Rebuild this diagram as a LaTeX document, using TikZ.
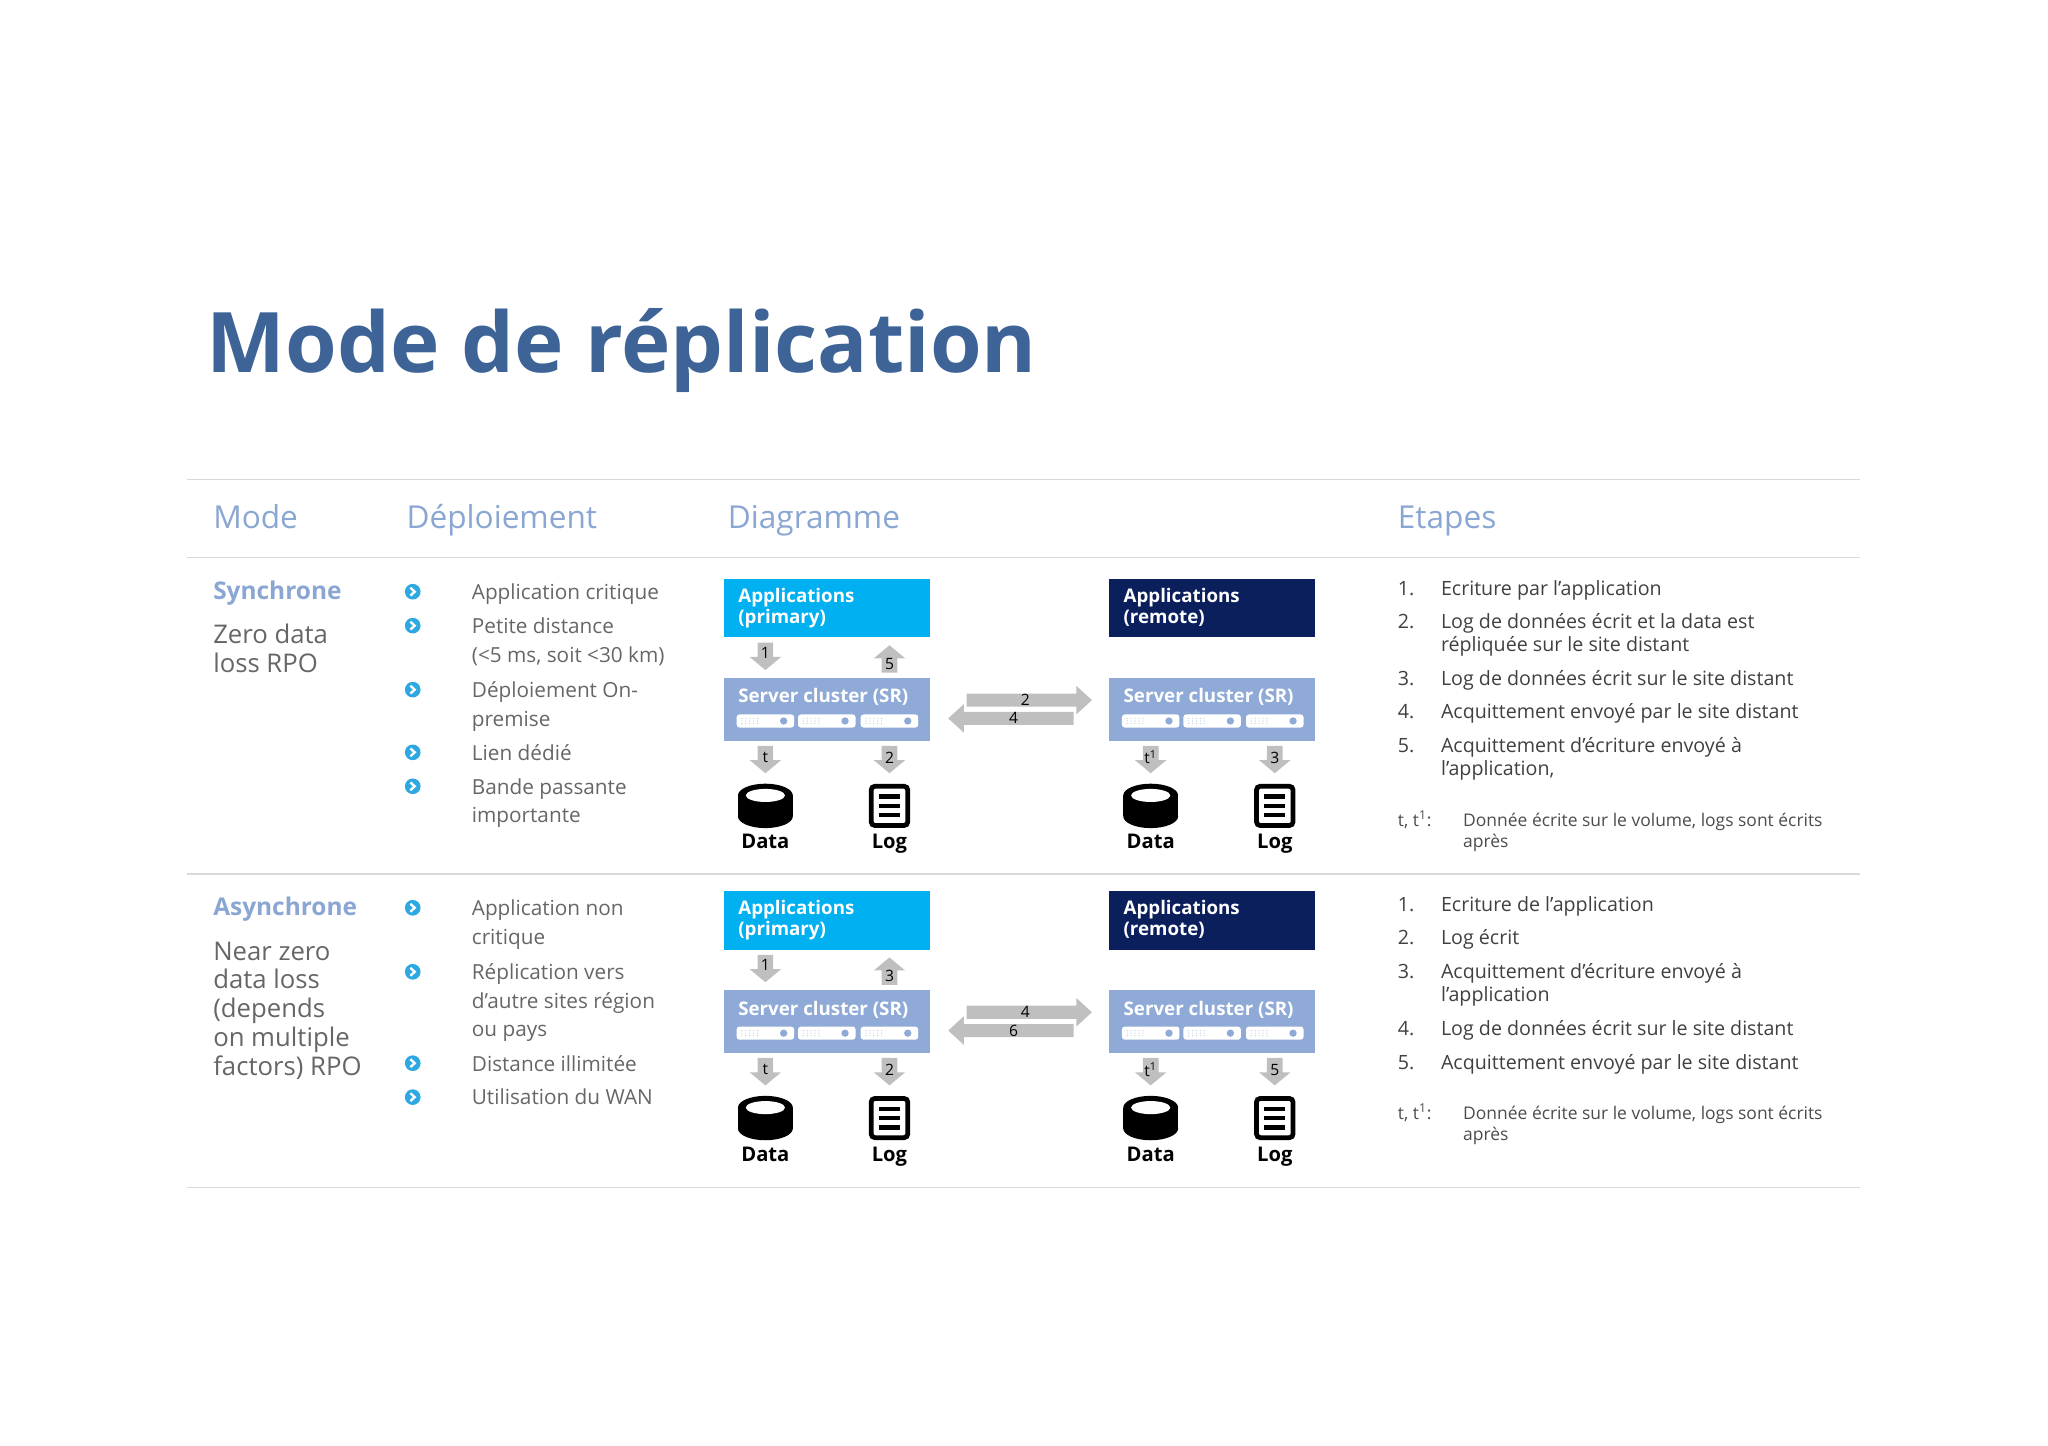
\documentclass[tikz,border=0pt]{standalone}
\usepackage{fontspec}
\setmainfont{Open Sans}
\definecolor{titleblue}{HTML}{3D6397}
\definecolor{hdrblue}{HTML}{8AA6D2}
\definecolor{txtgray}{HTML}{666666}
\definecolor{appblue}{HTML}{00B0F0}
\definecolor{appdark}{HTML}{0A1F5C}
\definecolor{srvblue}{HTML}{8FAAD6}
\definecolor{arrgray}{HTML}{BFBFBF}
\definecolor{bulblue}{HTML}{2EA8E0}
\definecolor{rulegray}{HTML}{D9D9D9}
\newcommand{\ml}[1]{\begin{tabular}[t]{@{}l@{}}#1\end{tabular}}
\tikzset{
 body/.style={anchor=base west,inner sep=0,font=\fontsize{11.3}{15.6}\selectfont,text=txtgray},
 hdr/.style={anchor=base west,inner sep=0,font=\fontsize{17.2}{20}\selectfont,text=hdrblue},
 modeb/.style={anchor=base west,inner sep=0,font=\fontsize{13.3}{16}\selectfont\bfseries,text=hdrblue},
 modet/.style={anchor=base west,inner sep=0,font=\fontsize{14}{15.7}\selectfont,text=txtgray},
 steptxt/.style={anchor=base west,inner sep=0,font=\fontsize{10.7}{12.8}\selectfont,text=black!75},
 foot/.style={anchor=base west,inner sep=0,font=\fontsize{9.5}{11.3}\selectfont,text=black!70},
 boxtxt/.style={anchor=north west,inner sep=0,font=\fontsize{10.2}{11.5}\selectfont\bfseries,text=white,align=left},
 numlbl/.style={inner sep=0,font=\fontsize{8.5}{9}\selectfont,text=black},
 iconlbl/.style={inner sep=0,font=\fontsize{11}{12}\selectfont\bfseries,text=black},
 rulel/.style={draw=rulegray,line width=0.8pt},
 downarr/.pic={\fill[arrgray] (-6,-10)--(6,-10)--(6,1)--(12,1)--(0,11)--(-12,1)--(-6,1)--cycle;},
 uparr/.pic={\fill[arrgray] (-6,10)--(6,10)--(6,-1)--(12,-1)--(0,-11)--(-12,-1)--(-6,-1)--cycle;},
 rarr/.pic={\fill[arrgray] (-48,-5)--(36,-5)--(36,-11)--(48,0)--(36,11)--(36,5)--(-48,5)--cycle;},
 larr/.pic={\fill[arrgray] (48,-5)--(-36,-5)--(-36,-11)--(-48,0)--(-36,11)--(-36,5)--(48,5)--cycle;},
 bullet/.pic={\fill[bulblue] (0,0) circle (6); \draw[white,line width=1.3pt] (-1.8,-3)--(1.5,0)--(-1.8,3);},
 cyl/.pic={\fill[black] (0,8) ellipse (21 and 9); \fill[black] (-21,-8) rectangle (21,8);
   \fill[black] (0,-8) ellipse (21 and 9); \fill[white] (0,-8) ellipse (15 and 5);},
 logic/.pic={\draw[black,line width=2.6pt,rounded corners=2] (-14,-15) rectangle (14,15);
   \foreach \yy in {-7,0,7}{\draw[black,line width=2.6pt] (-8,\yy)--(8,\yy);}},
 slot/.pic={\fill[white,rounded corners=1.5] (-22,-5) rectangle (22,5);
   \foreach \xx in {-18,-15,...,-6}{\foreach \yy in {-2,0,2}{\fill[srvblue!70] (\xx,\yy) circle (0.45);}}
   \fill[srvblue] (14,0) circle (2.8);},
}
\newcommand{\site}[7]{%
% #1 x, #2 y, #3 prefix, #4 colour, #5 app text, #6 left low label, #7 right low label
\begin{scope}[shift={(#1,#2)}]
 \fill[#4] (0,0) rectangle (158,45);
 \node[boxtxt] (#3app) at (11,7) {Applications\\#5};
 \fill[srvblue] (0,76) rectangle (158,124);
 \node[boxtxt] (#3srv) at (11,84) {Server cluster (SR)};
 \foreach \xx in {32,79,127}{\pic at (\xx,109) {slot};}
 \pic at (32,138) {downarr}; \node[numlbl] (#3lt) at (32,137) {#6};
 \pic at (127,138) {downarr}; \node[numlbl] (#3rt) at (127,137) {#7};
 \pic at (32,174) {cyl}; \node[iconlbl,anchor=base] (#3dat) at (32,207) {Data};
 \pic at (127,174) {logic}; \node[iconlbl,anchor=base] (#3log) at (127,207) {Log};
\end{scope}}
\newcommand{\topar}[4]{% x y prefix up-label
\begin{scope}[shift={(#1,#2)}]
 \pic at (32,59) {downarr}; \node[numlbl] (#3one) at (32,57) {1};
 \pic at (127,62) {uparr}; \node[numlbl] (#3up) at (127,65) {#4};
\end{scope}}
\begin{document}
\begin{tikzpicture}[x=0.025cm,y=-0.025cm]
\useasboundingbox (0,0) rectangle (1568,1107);
\node[anchor=base west,inner sep=0,font=\fontsize{45.5}{50}\selectfont\bfseries,text=titleblue] (title) at (158,285) {Mode de réplication};
\draw[rulel] (143,367)--(1424,367);
\draw[rulel] (143,427)--(1424,427);
\draw[rulel] (143,669)--(1424,669);
\draw[rulel] (143,909)--(1424,909);
\node[hdr] (h1) at (163,405) {Mode};
\node[hdr] (h2) at (311,405) {Déploiement};
\node[hdr] (h3) at (557,405) {Diagramme};
\node[hdr] (h4) at (1070,405) {Etapes};
% row 1
\node[modeb] (m1) at (163,459) {Synchrone};
\node[modet] (m1t) at (163,493) {\ml{Zero data\\loss RPO}};
\foreach \yy in {453,479,528,576,602}{\pic at (316,\yy) {bullet};}
\node[body] (d1a) at (361,459) {Application critique};
\node[body] (d1b) at (361,485) {\ml{Petite distance\\(<5 ms, soit <30 km)}};
\node[body] (d1c) at (361,534) {\ml{Déploiement On-\\premise}};
\node[body] (d1d) at (361,582) {Lien dédié};
\node[body] (d1e) at (361,608) {\ml{Bande passante\\importante}};
\site{554}{443}{pa}{appblue}{(primary)}{t}{2}
\site{849}{443}{ra}{appdark}{(remote)}{t\textsuperscript{1}}{3}
\topar{554}{443}{pa}{5}
\pic at (788,536) {rarr}; \node[numlbl] (h2a) at (785,536) {2};
\pic at (774,550) {larr}; \node[numlbl] (h4a) at (776,550) {4};
% row 2
\node[modeb] (m2) at (163,701) {Asynchrone};
\node[modet] (m2t) at (163,735) {\ml{Near zero\\data loss\\(depends\\on multiple\\factors) RPO}};
\foreach \yy in {695,744,814,840}{\pic at (316,\yy) {bullet};}
\node[body] (d2a) at (361,701) {\ml{Application non\\critique}};
\node[body] (d2b) at (361,750) {\ml{Réplication vers\\d’autre sites région\\ou pays}};
\node[body] (d2c) at (361,820) {Distance illimitée};
\node[body] (d2d) at (361,846) {Utilisation du WAN};
\site{554}{682}{pb}{appblue}{(primary)}{t}{2}
\site{849}{682}{rb}{appdark}{(remote)}{t\textsuperscript{1}}{5}
\topar{554}{682}{pb}{3}
\pic at (788,775) {rarr}; \node[numlbl] (h4b) at (785,775) {4};
\pic at (774,789) {larr}; \node[numlbl] (h6b) at (776,789) {6};
% steps row 1
\foreach \n/\yy in {1/456,2/481,3/525,4/550,5/576}{\node[steptxt] at (1070,\yy) {\n.};}
\node[steptxt] (s1a) at (1103,456) {Ecriture par l’application};
\node[steptxt] (s1b) at (1103,481) {\ml{Log de données écrit et la data est\\répliquée sur le site distant}};
\node[steptxt] (s1c) at (1103,525) {Log de données écrit sur le site distant};
\node[steptxt] (s1d) at (1103,550) {Acquittement envoyé par le site distant};
\node[steptxt] (s1e) at (1103,576) {\ml{Acquittement d’écriture envoyé à\\l’application,}};
\node[foot] (f1a) at (1070,633) {t, t\textsuperscript{1}:};
\node[foot] (f1b) at (1120,633) {\ml{Donnée écrite sur le volume, logs sont écrits\\après}};
% steps row 2
\foreach \n/\yy in {1/698,2/723,3/749,4/793,5/819}{\node[steptxt] at (1070,\yy) {\n.};}
\node[steptxt] (s2a) at (1103,698) {Ecriture de l’application};
\node[steptxt] (s2b) at (1103,723) {Log écrit};
\node[steptxt] (s2c) at (1103,749) {\ml{Acquittement d’écriture envoyé à\\l’application}};
\node[steptxt] (s2d) at (1103,793) {Log de données écrit sur le site distant};
\node[steptxt] (s2e) at (1103,819) {Acquittement envoyé par le site distant};
\node[foot] (f2a) at (1070,857) {t, t\textsuperscript{1}:};
\node[foot] (f2b) at (1120,857) {\ml{Donnée écrite sur le volume, logs sont écrits\\après}};
\end{tikzpicture}
\end{document}
